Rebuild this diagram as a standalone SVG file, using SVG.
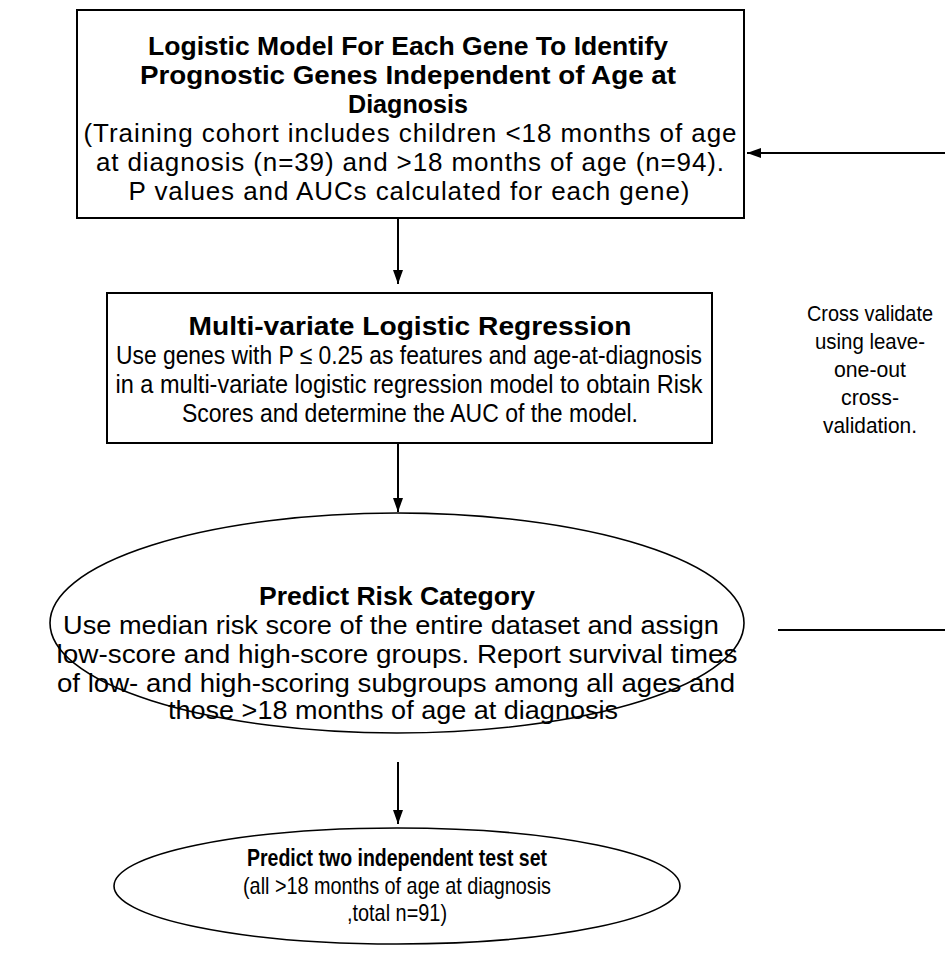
<svg xmlns="http://www.w3.org/2000/svg" width="945" height="953" viewBox="0 0 945 953">
<style>
text { font-family: "Liberation Sans", Arial, sans-serif; font-size: 26px; fill: #000; text-anchor: middle; }
.b { font-weight: bold; }
.s { font-size: 24px; }
.r { font-size: 22px; }
.box { fill: #fff; stroke: #000; stroke-width: 2; }
.ell { fill: #fff; stroke: #000; stroke-width: 1.6; }
.ln { stroke: #000; stroke-width: 2; fill: none; }
</style>
<defs>
<marker id="ah" viewBox="0 0 14 10" refX="14" refY="5" markerWidth="14" markerHeight="10" markerUnits="userSpaceOnUse" orient="auto">
<path d="M0,0 L14,5 L0,10 Z" fill="#000"/>
</marker>
</defs>
<rect width="945" height="953" fill="#fff"/>
<g id="connectors">
<line class="ln" x1="398" y1="219" x2="398" y2="284" marker-end="url(#ah)"/>
<line class="ln" x1="398" y1="444" x2="398" y2="512" marker-end="url(#ah)"/>
<line class="ln" x1="398" y1="762" x2="398" y2="824" marker-end="url(#ah)"/>
<line class="ln" x1="945" y1="153" x2="747" y2="153" marker-end="url(#ah)"/>
<line class="ln" x1="778" y1="630" x2="945" y2="630"/>
</g>
<g id="node-logistic">
<rect class="box" x="77" y="10" width="667" height="208"/>
<text class="b" x="408" y="55" textLength="520" lengthAdjust="spacingAndGlyphs">Logistic Model For Each Gene To Identify</text>
<text class="b" x="408" y="84" textLength="536" lengthAdjust="spacingAndGlyphs">Prognostic Genes Independent of Age at</text>
<text class="b" x="408" y="113" textLength="120" lengthAdjust="spacingAndGlyphs">Diagnosis</text>
<text x="410" y="142" textLength="653" lengthAdjust="spacing">(Training cohort includes children &lt;18 months of age</text>
<text x="410" y="171" textLength="628" lengthAdjust="spacing">at diagnosis (n=39) and &gt;18 months of age (n=94).</text>
<text x="409" y="200" textLength="561" lengthAdjust="spacing">P values and AUCs calculated for each gene)</text>
</g>
<g id="node-multivariate">
<rect class="box" x="107" y="293" width="605" height="150"/>
<text class="b" x="410" y="335" textLength="443" lengthAdjust="spacingAndGlyphs">Multi-variate Logistic Regression</text>
<text x="409" y="364" textLength="586" lengthAdjust="spacingAndGlyphs">Use genes with P ≤ 0.25 as features and age-at-diagnosis</text>
<text x="409" y="393" textLength="587" lengthAdjust="spacingAndGlyphs">in a multi-variate logistic regression model to obtain Risk</text>
<text x="410" y="422" textLength="456" lengthAdjust="spacingAndGlyphs">Scores and determine the AUC of the model.</text>
</g>
<g id="node-predict-risk">
<ellipse class="ell" cx="397" cy="623" rx="347" ry="110"/>
<text class="b" x="397" y="605" textLength="276" lengthAdjust="spacingAndGlyphs">Predict Risk Category</text>
<text x="391" y="634" textLength="656" lengthAdjust="spacingAndGlyphs">Use median risk score of the entire dataset and assign</text>
<text x="397" y="663" textLength="681" lengthAdjust="spacingAndGlyphs">low-score and high-score groups.  Report survival times</text>
<text x="396" y="692" textLength="678" lengthAdjust="spacingAndGlyphs">of low- and high-scoring subgroups among all ages and</text>
<text x="393" y="719" textLength="450" lengthAdjust="spacingAndGlyphs">those &gt;18 months of age at diagnosis</text>
</g>
<g id="node-predict-test">
<ellipse class="ell" cx="397" cy="886" rx="283" ry="58"/>
<text class="b s" x="397" y="866" textLength="300" lengthAdjust="spacingAndGlyphs">Predict two independent test set</text>
<text class="s" x="397" y="894" textLength="308" lengthAdjust="spacingAndGlyphs">(all &gt;18 months of age at diagnosis</text>
<text class="s" x="397" y="921" textLength="100" lengthAdjust="spacingAndGlyphs">,total n=91)</text>
</g>
<g id="label-cross-validate">
<text class="r" x="870" y="321" textLength="126" lengthAdjust="spacingAndGlyphs">Cross validate</text>
<text class="r" x="870" y="349" textLength="110" lengthAdjust="spacingAndGlyphs">using leave-</text>
<text class="r" x="870" y="377" textLength="72" lengthAdjust="spacingAndGlyphs">one-out</text>
<text class="r" x="870" y="405" textLength="58" lengthAdjust="spacingAndGlyphs">cross-</text>
<text class="r" x="870" y="433" textLength="94" lengthAdjust="spacingAndGlyphs">validation.</text>
</g>
</svg>
